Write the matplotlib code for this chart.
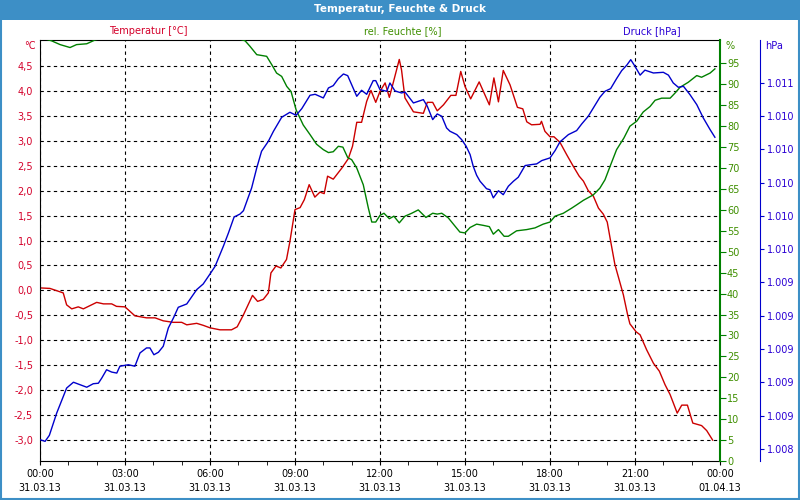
import numpy as np
import matplotlib
matplotlib.use("Agg")
import matplotlib.pyplot as plt
from matplotlib.patches import Rectangle

# hours since 31.03.13 00:00
hours_t = [0, 0.35, 0.82, 0.94, 1.12, 1.35, 1.53, 2.0, 2.24, 2.53,
           2.7, 3.0, 3.35, 3.76, 4.06, 4.35, 4.7, 5.0, 5.18, 5.53,
           5.76, 6.0, 6.35, 6.76, 6.96, 7.18, 7.5, 7.68, 7.88, 8.06,
           8.15, 8.33, 8.5, 8.7, 8.82, 9.0, 9.18, 9.33, 9.5, 9.7,
           9.88, 10.03, 10.15, 10.35, 10.65, 10.88, 11.03, 11.18, 11.35, 11.53,
           11.68, 11.85, 12.0, 12.18, 12.33, 12.47, 12.68, 12.76, 12.88, 13.18,
           13.53, 13.67, 13.86, 14.02, 14.24, 14.5, 14.68, 14.85, 15.0, 15.2,
           15.5, 15.86, 16.02, 16.18, 16.35, 16.59, 16.85, 17.04, 17.18, 17.35,
           17.65, 17.7, 17.82, 18.0, 18.14, 18.35, 18.59, 18.82, 19.03, 19.18,
           19.35, 19.53, 19.71, 19.88, 20.02, 20.12, 20.29, 20.59, 20.74, 20.82,
           21.04, 21.18, 21.41, 21.65, 21.86, 22.06, 22.24, 22.49, 22.65, 22.85,
           23.04, 23.35, 23.53, 23.74]
temp = [0.05, 0.04, -0.05, -0.29, -0.37, -0.33, -0.37, -0.24, -0.27, -0.27,
        -0.32, -0.33, -0.51, -0.55, -0.55, -0.61, -0.64, -0.64, -0.69, -0.66,
        -0.70, -0.75, -0.79, -0.79, -0.73, -0.49, -0.10, -0.22, -0.18, -0.05,
        0.35, 0.49, 0.45, 0.62, 0.98, 1.62, 1.66, 1.82, 2.12, 1.87,
        1.97, 1.94, 2.29, 2.23, 2.45, 2.64, 2.89, 3.37, 3.37, 3.79,
        4.01, 3.77, 3.99, 4.16, 3.87, 4.17, 4.63, 4.42, 3.86, 3.58,
        3.55, 3.77, 3.77, 3.60, 3.72, 3.91, 3.91, 4.39, 4.09, 3.84,
        4.18, 3.72, 4.26, 3.78, 4.41, 4.12, 3.67, 3.64, 3.38, 3.32,
        3.33, 3.39, 3.19, 3.08, 3.08, 2.97, 2.72, 2.49, 2.29, 2.19,
        2.0, 1.89, 1.65, 1.53, 1.37, 1.05, 0.52, -0.09, -0.49, -0.67,
        -0.83, -0.89, -1.19, -1.46, -1.62, -1.89, -2.09, -2.46, -2.30, -2.30,
        -2.66, -2.71, -2.81, -3.0]

hours_h = [0, 0.41, 0.71, 1.06, 1.29, 1.65, 1.94, 3.0, 5.0, 6.5,
           7.24, 7.41, 7.65, 8.0, 8.18, 8.35, 8.53, 8.71, 8.86, 9.04,
           9.29, 9.53, 9.76, 10.0, 10.18, 10.35, 10.53, 10.69, 10.86, 11.0,
           11.18, 11.41, 11.59, 11.71, 11.85, 12.0, 12.14, 12.33, 12.49, 12.68,
           12.88, 13.12, 13.35, 13.62, 13.86, 14.02, 14.18, 14.41, 14.65, 14.82,
           15.0, 15.18, 15.41, 15.65, 15.86, 16.0, 16.18, 16.38, 16.53, 16.82,
           17.18, 17.47, 17.76, 18.0, 18.18, 18.47, 18.76, 18.94, 19.18, 19.53,
           19.76, 19.94, 20.12, 20.35, 20.61, 20.82, 21.06, 21.29, 21.53, 21.71,
           21.94, 22.24, 22.41, 22.59, 22.88, 23.18, 23.35, 23.65, 23.82]
humid = [101.2, 100.4, 99.5, 98.8, 99.5, 99.7, 100.6, 102.5, 103.5, 102.0,
         100.4, 99.1, 97.1, 96.7, 94.7, 92.7, 91.9, 89.5, 88.3, 83.9,
         80.3, 78.0, 75.7, 74.4, 73.7, 73.9, 75.2, 75.0, 72.5, 72.0,
         70.0, 66.0, 60.4, 57.1, 57.1, 58.7, 59.2, 57.9, 58.5, 56.9,
         58.5, 59.2, 60.0, 58.2, 59.2, 59.0, 59.2, 58.1, 56.1, 54.7,
         54.5, 55.8, 56.6, 56.3, 56.0, 54.2, 55.3, 53.7, 53.7, 55.0,
         55.3, 55.7, 56.6, 57.1, 58.5, 59.2, 60.4, 61.2, 62.3, 63.6,
         65.2, 67.2, 70.4, 74.4, 77.2, 80.0, 81.2, 83.4, 84.7, 86.2,
         86.7, 86.7, 87.9, 89.3, 90.5, 92.1, 91.7, 92.7, 93.7]

hours_p = [0, 0.18, 0.33, 0.59, 0.94, 1.18, 1.65, 1.88, 2.06, 2.18,
           2.35, 2.53, 2.71, 2.82, 3.12, 3.35, 3.53, 3.76, 3.88, 4.02,
           4.18, 4.35, 4.53, 4.71, 4.88, 5.18, 5.53, 5.76, 6.0, 6.18,
           6.47, 6.65, 6.85, 7.06, 7.18, 7.47, 7.65, 7.82, 8.06, 8.24,
           8.53, 8.82, 9.04, 9.24, 9.53, 9.71, 10.0, 10.18, 10.35, 10.53,
           10.71, 10.86, 11.04, 11.18, 11.35, 11.53, 11.76, 11.85, 12.0, 12.24,
           12.35, 12.53, 12.76, 12.88, 13.18, 13.53, 13.67, 13.86, 14.02, 14.18,
           14.35, 14.47, 14.71, 14.88, 15.04, 15.18, 15.29, 15.41, 15.53, 15.76,
           15.88, 16.0, 16.18, 16.35, 16.53, 16.71, 16.88, 17.12, 17.35, 17.53,
           17.71, 18.0, 18.18, 18.35, 18.65, 18.94, 19.12, 19.35, 19.53, 19.76,
           19.94, 20.14, 20.35, 20.53, 20.71, 20.85, 21.0, 21.18, 21.35, 21.65,
           22.0, 22.18, 22.35, 22.53, 22.71, 22.94, 23.18, 23.41, 23.65, 23.82]
press = [1.008456, 1.008446, 1.008482, 1.008616, 1.008766, 1.008801, 1.008771, 1.008792, 1.008795, 1.008826,
         1.008876, 1.008862, 1.008856, 1.008897, 1.008906, 1.008897, 1.008977, 1.009007, 1.009007, 1.008966,
         1.008981, 1.009017, 1.009127, 1.009187, 1.009251, 1.009271, 1.009357, 1.009391, 1.009451, 1.009497,
         1.009617, 1.009697, 1.009793, 1.009811, 1.009831, 1.009968, 1.010088, 1.010188, 1.010248, 1.010308,
         1.010392, 1.010422, 1.010404, 1.010444, 1.010524, 1.010530, 1.010508, 1.010568, 1.010582, 1.010624,
         1.010652, 1.010642, 1.010572, 1.010518, 1.010554, 1.010530, 1.010612, 1.010612, 1.010558, 1.010548,
         1.010598, 1.010550, 1.010538, 1.010544, 1.010478, 1.010498, 1.010458, 1.010378, 1.010412, 1.010398,
         1.010328, 1.010308, 1.010288, 1.010258, 1.010218, 1.010168, 1.010098, 1.010044, 1.010008, 1.009963,
         1.009957, 1.009908, 1.009951, 1.009927, 1.009978, 1.010008, 1.010032, 1.010102, 1.010108, 1.010112,
         1.010132, 1.010148, 1.010192, 1.010244, 1.010288, 1.010312, 1.010352, 1.010398, 1.010448, 1.010512,
         1.010548, 1.010564, 1.010624, 1.010672, 1.010705, 1.010738, 1.010698, 1.010645, 1.010675, 1.010658,
         1.010662, 1.010645, 1.010598, 1.010572, 1.010578, 1.010528, 1.010468, 1.010388, 1.010318, 1.010272]

x_labels = ["00:00\n31.03.13", "03:00\n31.03.13", "06:00\n31.03.13", "09:00\n31.03.13",
            "12:00\n31.03.13", "15:00\n31.03.13", "18:00\n31.03.13", "21:00\n31.03.13",
            "00:00\n01.04.13"]
t_ticks = [-3.0, -2.5, -2.0, -1.5, -1.0, -0.5, 0.0, 0.5, 1.0, 1.5, 2.0, 2.5, 3.0, 3.5, 4.0, 4.5]
h_ticks = [0, 5, 10, 15, 20, 25, 30, 35, 40, 45, 50, 55, 60, 65, 70, 75, 80, 85, 90, 95]
p_ticks = [1.0084, 1.0086, 1.0088, 1.0090, 1.0092, 1.0094, 1.0096, 1.0098, 1.0100, 1.0102, 1.0104, 1.0106]

red = "#cc0000"
green = "#008000"
blue = "#0000cc"
red_txt = "#d4002a"
green_txt = "#3f8f00"
blue_txt = "#2a00d4"

plt.rcParams['font.family'] = 'DejaVu Sans'
plt.rcParams['font.size'] = 7

fig = plt.figure(figsize=(8, 5), dpi=100)
fig.patch.set_facecolor("white")

# title bar + frame
fig.patches.append(Rectangle((0, 0.96), 1, 0.04, transform=fig.transFigure,
                             facecolor="#3d8fc6", edgecolor="none"))
fig.patches.append(Rectangle((0.001, 0.002), 0.998, 0.997, transform=fig.transFigure,
                             facecolor="none", edgecolor="#3d8fc6", lw=1.5))
fig.text(0.5, 0.981, "Temperatur, Feuchte & Druck", color="white", fontweight="bold",
         fontsize=7.5, ha="center", va="center")

ax = fig.add_axes([0.05, 0.078, 0.85, 0.842])
ax.plot(hours_t, temp, color=red, lw=1)
ax.set_xlim(0, 24)
ax.set_ylim(-3.42, 5.02)
ax.set_yticks(t_ticks)
ax.set_yticklabels([("%.1f" % v).replace(".", ",") for v in t_ticks], color=red_txt)
ax.tick_params(axis="y", length=0, pad=5)
ax.set_xticks(np.arange(0, 25, 3))
ax.set_xticklabels(x_labels, linespacing=1.5)
ax.set_xticks(np.arange(0, 25, 1), minor=True)
ax.tick_params(axis="x", which="both", direction="out", length=3, pad=3)
ax.grid(True, color="black", linestyle=(0, (3, 3)), lw=0.8)
for s in ax.spines.values():
    s.set_color("black")
ax.spines["right"].set_visible(False)

ax2 = ax.twinx()
ax2.plot(hours_h, humid, color=green, lw=1)
ax2.set_ylim(0, 100.6)
ax2.set_yticks(h_ticks)
ax2.tick_params(axis="y", colors=green, labelcolor=green_txt, length=4, pad=1)
ax2.spines["right"].set_color(green)
ax2.spines["right"].set_linewidth(1.5)
for k in ["left", "top", "bottom"]:
    ax2.spines[k].set_visible(False)

ax3 = ax.twinx()
ax3.plot(hours_p, press, color=blue, lw=1)
ax3.set_ylim(1.008328, 1.010856)
ax3.set_yticks(p_ticks)
ax3.set_yticklabels(["%.3f" % v for v in p_ticks])
ax3.tick_params(axis="y", colors=blue, labelcolor=blue_txt, length=3, pad=2)
ax3.spines["right"].set_position(("axes", 1.0588))
ax3.spines["right"].set_color(blue)
ax3.spines["right"].set_bounds(1.008328, 1.010856)
for k in ["left", "top", "bottom"]:
    ax3.spines[k].set_visible(False)

# axis unit labels and series names
fig.text(0.045, 0.908, "°C", color=red_txt, ha="right", va="center")
fig.text(0.907, 0.908, "%", color=green_txt, ha="left", va="center")
fig.text(0.956, 0.908, "hPa", color=blue_txt, ha="left", va="center")
fig.text(0.185, 0.937, "Temperatur [°C]", color=red_txt, ha="center", va="center")
fig.text(0.504, 0.937, "rel. Feuchte [%]", color=green_txt, ha="center", va="center")
fig.text(0.815, 0.937, "Druck [hPa]", color=blue_txt, ha="center", va="center")

plt.savefig("out.png", dpi=100)
